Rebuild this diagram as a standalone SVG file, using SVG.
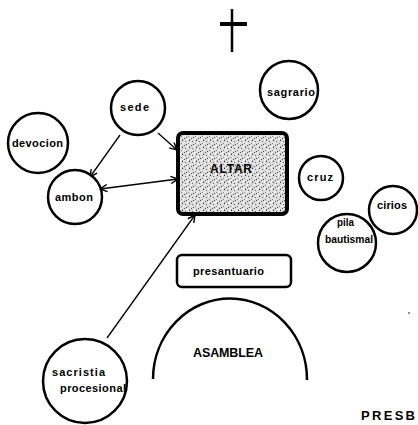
<svg xmlns="http://www.w3.org/2000/svg" width="418" height="425" viewBox="0 0 418 425">
<style>
  .c { fill: #fff; stroke: #000; stroke-width: 2.5; }
  .t { font-family: "Liberation Sans", Arial, sans-serif; font-weight: bold; font-size: 11px; fill: #000; }
  .cap { font-size: 12px; }
  .edge { stroke: #000; stroke-width: 1.3; fill: none; }
</style>
<defs>
  <marker id="ah" viewBox="0 0 10 10" refX="9" refY="5" markerWidth="9" markerHeight="9" markerUnits="userSpaceOnUse" orient="auto-start-reverse">
    <path d="M1,1 L9,5 L1,9" fill="none" stroke="#000" stroke-width="1.6"/>
  </marker>
  <pattern id="stip" width="7" height="7" patternUnits="userSpaceOnUse">
    <rect width="7" height="7" fill="#dcdcdc"/>
    <rect x="0" y="0" width="1" height="1" fill="#333"/>
    <rect x="3" y="1" width="1" height="1" fill="#666"/>
    <rect x="5" y="0" width="1" height="1" fill="#fff"/>
    <rect x="1" y="3" width="1" height="1" fill="#fff"/>
    <rect x="4" y="4" width="1" height="1" fill="#444"/>
    <rect x="6" y="3" width="1" height="1" fill="#888"/>
    <rect x="2" y="5" width="1" height="1" fill="#555"/>
    <rect x="5" y="6" width="1" height="1" fill="#fff"/>
    <rect x="0" y="6" width="1" height="1" fill="#999"/>
    <rect x="2" y="2" width="1" height="1" fill="#fff"/>
    <rect x="6" y="5" width="1" height="1" fill="#fff"/>
  </pattern>
</defs>

<g id="cross">
  <line x1="232" y1="9" x2="232" y2="52" stroke="#000" stroke-width="2.5"/>
  <line x1="220" y1="24" x2="247" y2="24" stroke="#000" stroke-width="4"/>
</g>

<g id="connectors">
  <line class="edge" x1="120" y1="135" x2="90" y2="177" marker-end="url(#ah)"/>
  <line class="edge" x1="158" y1="133" x2="177" y2="150" marker-end="url(#ah)"/>
  <line class="edge" x1="100" y1="189" x2="178" y2="179" marker-start="url(#ah)" marker-end="url(#ah)"/>
  <line class="edge" x1="107" y1="338" x2="195" y2="215" marker-end="url(#ah)"/>
</g>

<g id="sagrario">
  <circle class="c" cx="289" cy="90" r="29"/>
  <text class="t" x="267" y="96" textLength="48" lengthAdjust="spacing">sagrario</text>
</g>
<g id="sede">
  <circle class="c" cx="138" cy="108" r="27"/>
  <text class="t" x="120" y="111" textLength="29" lengthAdjust="spacing">sede</text>
</g>
<g id="devocion">
  <circle class="c" cx="38" cy="143" r="30"/>
  <text class="t" x="12" y="147" textLength="51" lengthAdjust="spacing">devocion</text>
</g>
<g id="ambon">
  <circle class="c" cx="75" cy="197" r="27"/>
  <text class="t" x="55" y="201" textLength="38" lengthAdjust="spacing">ambon</text>
</g>
<g id="altar">
  <rect x="178" y="133" width="109" height="81" rx="5" fill="url(#stip)" stroke="#000" stroke-width="4"/>
  <text class="t cap" x="210" y="173" textLength="42" lengthAdjust="spacing">ALTAR</text>
</g>
<g id="cruz">
  <circle class="c" cx="321" cy="178" r="22"/>
  <text class="t" x="307" y="181" textLength="26" lengthAdjust="spacing">cruz</text>
</g>
<g id="cirios">
  <circle class="c" cx="393" cy="210" r="24"/>
  <text class="t" x="377" y="209" textLength="30" lengthAdjust="spacing">cirios</text>
</g>
<g id="pila">
  <circle class="c" cx="347" cy="243" r="29"/>
  <text class="t" x="337" y="226" textLength="17" lengthAdjust="spacingAndGlyphs">pila</text>
  <text class="t" x="325" y="243" textLength="48" lengthAdjust="spacingAndGlyphs">bautismal</text>
</g>
<g id="presantuario">
  <rect x="177" y="255" width="114" height="32" rx="5" fill="#fff" stroke="#000" stroke-width="2.5"/>
  <text class="t" x="193" y="275" textLength="71" lengthAdjust="spacing">presantuario</text>
</g>
<g id="asamblea">
  <path d="M153,379 A77,81 0 0 1 307,380" fill="none" stroke="#000" stroke-width="2.5"/>
  <text class="t" x="193" y="357" textLength="70" lengthAdjust="spacing" style="font-size:12.5px">ASAMBLEA</text>
</g>
<g id="sacristia">
  <circle class="c" cx="85" cy="381" r="42"/>
  <text class="t" x="52" y="376" textLength="53" lengthAdjust="spacing">sacristia</text>
  <text class="t" x="60" y="392" textLength="66" lengthAdjust="spacing">procesional</text>
</g>
<g id="presbiterio">
  <text class="t" x="361" y="420" style="font-size:13px;font-weight:900" textLength="54" lengthAdjust="spacing">PRESB</text>
</g>
<circle cx="409" cy="313" r="0.8" fill="#000"/>
</svg>
